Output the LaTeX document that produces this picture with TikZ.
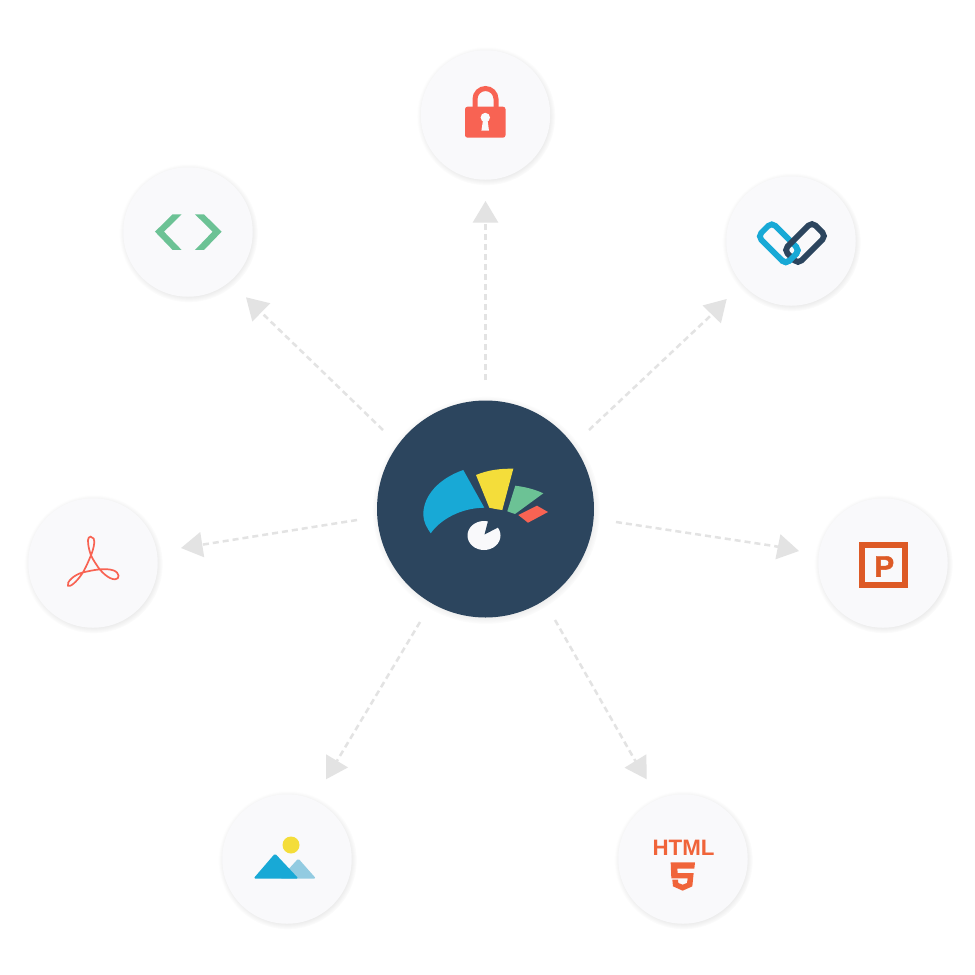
\documentclass[tikz,border=0pt]{standalone}
\usepackage{fontspec}
\setmainfont{Liberation Sans}
\newfontface\heavyface[FakeBold=1.6]{Liberation Sans Bold}
\usetikzlibrary{arrows.meta,shadows}
\definecolor{hubc}{HTML}{2C455E}
\definecolor{bluec}{HTML}{18A9D6}
\definecolor{yelc}{HTML}{F4DD3A}
\definecolor{grnc}{HTML}{6CC295}
\definecolor{redc}{HTML}{F86353}
\definecolor{discc}{HTML}{F9F9FB}
\definecolor{linec}{HTML}{E3E3E3}
\definecolor{htmlc}{HTML}{F0643A}
\definecolor{pptc}{HTML}{DD5A26}
\definecolor{lbluec}{HTML}{92CBE1}
\tikzset{
  softshadow/.style={circular drop shadow={shadow xshift=.5pt,shadow yshift=-1pt,shadow scale=1.07,fill=black,opacity=.12}},
  hubshadow/.style={circular drop shadow={shadow xshift=.5pt,shadow yshift=-1pt,shadow scale=1.05,fill=black,opacity=.16}},
  disc/.style={circle,fill=discc,minimum size=129.5pt,inner sep=0pt,softshadow},
  hubdisc/.style={circle,fill=hubc,minimum size=217pt,inner sep=0pt,hubshadow},
  flow/.style={draw=linec,line width=2.5pt,dash pattern=on 6pt off 4pt,
     -{Triangle[length=21.5pt,width=25pt,color=linec,sep=0pt]}}
}
\begin{document}
\begin{tikzpicture}[x=1pt,y=-1pt]
\useasboundingbox (0,0) rectangle (975,975);
\fill[white] (0,0) rectangle (975,975);
\node[hubdisc] (hub) at (485.5,509) {};
\node[disc] (lock) at (485.5,115) {};
\node[disc] (chain) at (791,241) {};
\node[disc] (ppt) at (883,563) {};
\node[disc] (html) at (683,859) {};
\node[disc] (img) at (287,859) {};
\node[disc] (pdf) at (93,563) {};
\node[disc] (code) at (188,232) {};
\coordinate (s1) at (485.5,380);
\coordinate (s2) at (589,430);
\coordinate (s3) at (616,522);
\coordinate (s4) at (555,620);
\coordinate (s5) at (420,622);
\coordinate (s6) at (357,520);
\coordinate (s7) at (383,430);
\coordinate (b1) at (485.5,226);
\coordinate (b2) at (709.2,317);
\coordinate (b3) at (774,546);
\coordinate (b4) at (633.8,758.3);
\coordinate (b5) at (338.6,758.2);
\coordinate (b6) at (206.5,544);
\coordinate (b7) at (265,316);
\coordinate (t1) at (485.5,201);
\coordinate (t2) at (726.7,299);
\coordinate (t3) at (799,551);
\coordinate (t4) at (646.7,779.3);
\coordinate (t5) at (326,779.3);
\coordinate (t6) at (181,548);
\coordinate (t7) at (246,297.3);
\draw[flow] (s1) -- (b1) -- (t1);
\draw[flow] (s2) -- (b2) -- (t2);
\draw[flow] (s3) -- (b3) -- (t3);
\draw[flow] (s4) -- (b4) -- (t4);
\draw[flow] (s5) -- (b5) -- (t5);
\draw[flow] (s6) -- (b6) -- (t6);
\draw[flow] (s7) -- (b7) -- (t7);
% hub icon
\fill[bluec] (463.3,470) .. controls (440,478) and (423,495) .. (423.3,515) .. controls (423.5,522) and (427,528) .. (430.7,533.3) .. controls (440,520) and (460,508) .. (484.3,507.7) -- cycle;
\fill[yelc] (476,475) .. controls (488,470) and (500,468.5) .. (513.3,468.7) -- (502.3,510) .. controls (498,509.5) and (493,508.5) .. (489.3,507.7) -- cycle;
\fill[grnc] (515.3,485.7) .. controls (526,487) and (535,489.5) .. (543.3,493.3) -- (515,514) -- (507.3,511.3) -- cycle;
\fill[redc] (518.3,515) -- (537,505.7) -- (548,512) -- (528,522.7) -- cycle;
\fill[discc] (484,535.5) ellipse [x radius=16.5pt,y radius=14.5pt];
\fill[hubc] (484.5,534.5) -- (488.3,520) -- (500,521) -- (498.3,527.3) -- cycle;
% lock
\draw[redc,line width=5pt] (475,108) -- (475,99) arc[start angle=180,end angle=0,x radius=10.5pt,y radius=10.5pt] -- (496,108);
\fill[redc,rounded corners=2.5pt] (465,106.7) rectangle (505.5,137.7);
\fill[discc] (485.3,117.5) circle (4.7pt);
\fill[discc] (483.2,119) -- (487.4,119) -- (489,130.7) -- (481.4,130.7) -- cycle;
% chain
\begin{scope}[line width=5.8pt,rounded corners=5pt]
\draw[bluec] (757.8,236.3) -- ++(14,-14) -- ++(28,28) -- ++(-14,14) -- cycle;
\draw[hubc] (826,236) -- ++(-14,-14) -- ++(-28,28) -- ++(14,14) -- cycle;
\begin{scope}
\clip (780,248) rectangle (805,270);
\draw[bluec] (757.8,236.3) -- ++(14,-14) -- ++(28,28) -- ++(-14,14) -- cycle;
\end{scope}
\end{scope}
% pdf
\begin{scope}[shift={(50,520)},x=.3333pt,y=-.3333pt]
\draw[redc,line width=1.7pt] (122,50) .. controls (140,50) and (132,85) .. (122,108)
  .. controls (112,132) and (104,150) .. (95,163)
  .. controls (80,185) and (60,203) .. (54,197)
  .. controls (48,188) and (72,163) .. (100,157)
  .. controls (130,150) and (165,143) .. (190,151)
  .. controls (210,158) and (210,178) .. (195,178)
  .. controls (175,178) and (150,152) .. (140,135)
  .. controls (130,120) and (122,108) .. (118,90)
  .. controls (112,65) and (112,50) .. (122,50) -- cycle;
\end{scope}
% image
\fill[yelc] (291,845) circle (8.5pt);
\fill[lbluec,rounded corners=1.5pt] (298.3,858.5) -- (316,878.5) -- (280,878.5) -- cycle;
\fill[bluec,rounded corners=1.5pt] (275,853.5) -- (298.5,878.5) -- (253.5,878.5) -- cycle;
% html
\node[font=\bfseries,text=htmlc,inner sep=0pt,anchor=center] (htmltext) at (683.5,847.5) {\fontsize{22.3pt}{24pt}\selectfont HTML};
\begin{scope}[shift={(660,855)},x=.3333pt,y=-.3333pt]
\fill[htmlc] (32,22) -- (105,22) -- (103,41) -- (52,41) -- (53,54) -- (101,54) -- (97,94) -- (68,107) -- (39,94) -- (37,74) -- (54,74) -- (55,84) -- (68,89) -- (81,84) -- (83,70) -- (34,70) -- cycle;
\end{scope}
% ppt
\draw[pptc,line width=6pt] (862.3,545.3) rectangle (905.3,585.3);
\node[text=pptc,inner sep=0pt] (ptext) at (884.3,566.5) {\heavyface\fontsize{29.8pt}{30pt}\selectfont P};
% code
\begin{scope}[shift={(140,195)},x=.3333pt,y=-.3333pt]
\fill[grnc] (98,58) -- (125,58) -- (72,110) -- (125,165) -- (98,165) -- (45,110) -- cycle;
\fill[grnc] (165,58) -- (192,58) -- (245,110) -- (192,165) -- (165,165) -- (218,110) -- cycle;
\end{scope}
\end{tikzpicture}
\end{document}
